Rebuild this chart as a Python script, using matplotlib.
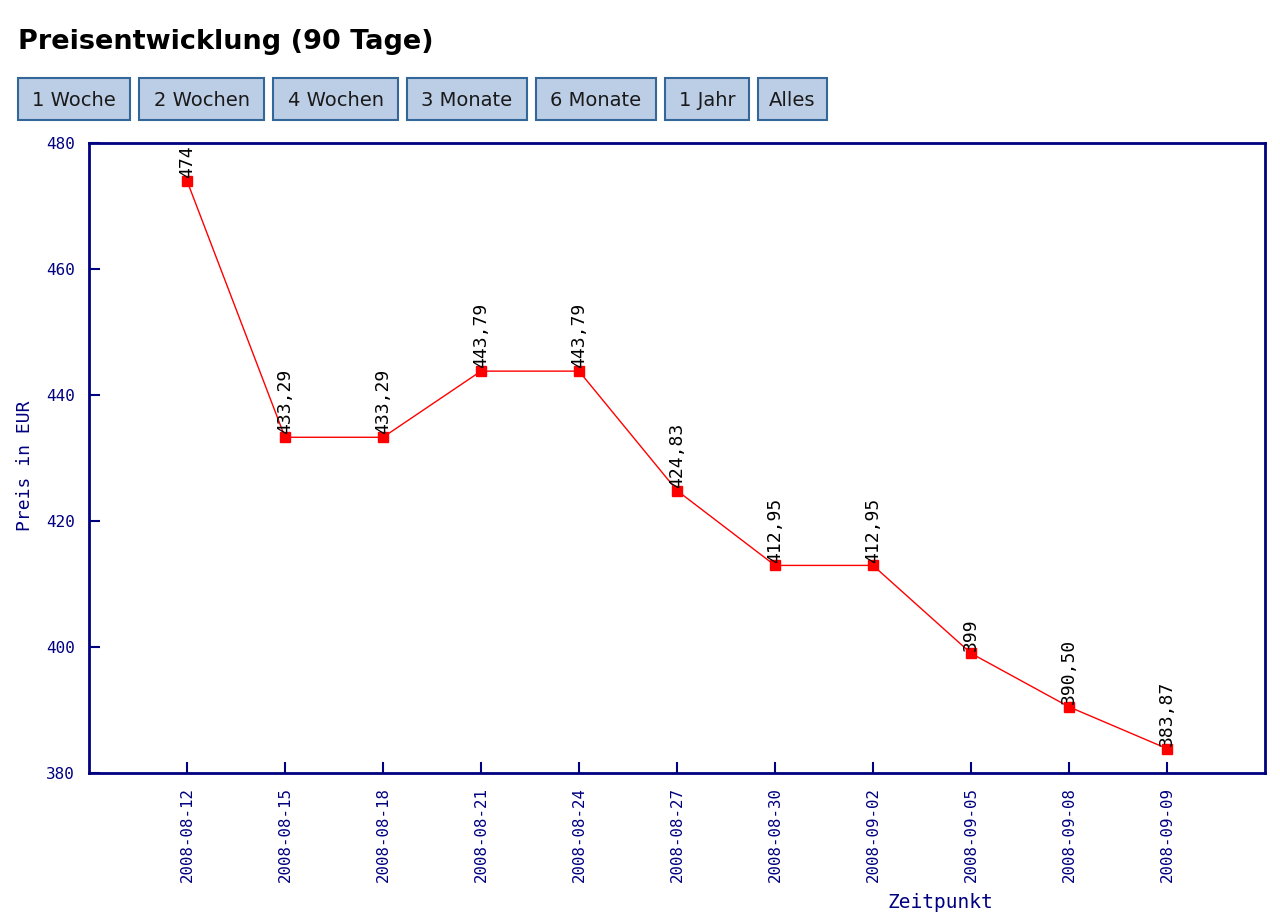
import matplotlib.pyplot as plt
from matplotlib.patches import Rectangle

dates = ["2008-08-12", "2008-08-15", "2008-08-18", "2008-08-21", "2008-08-24",
         "2008-08-27", "2008-08-30", "2008-09-02", "2008-09-05", "2008-09-08",
         "2008-09-09"]
prices = [474, 433.29, 433.29, 443.79, 443.79, 424.83, 412.95, 412.95, 399, 390.50, 383.87]
price_labels = ["474", "433,29", "433,29", "443,79", "443,79", "424,83",
                "412,95", "412,95", "399", "390,50", "383,87"]
buttons = ["1 Woche", "2 Wochen", "4 Wochen", "3 Monate", "6 Monate", "1 Jahr", "Alles"]
y_ticks = [380, 400, 420, 440, 460, 480]

navy = "#000080"
W, H = 1280, 915

fig = plt.figure(figsize=(12.8, 9.15), dpi=100)

# title and range buttons (pixel coordinates converted to figure fraction)
fig.text(18 / W, 1 - 42 / H, "Preisentwicklung (90 Tage)", fontsize=19.5,
         fontweight="bold", family="DejaVu Sans", va="center", ha="left")

btn_x = [(18, 130), (139, 264), (273, 398), (407, 527), (536, 656), (665, 749), (758, 827)]
for label, (x0, x1) in zip(buttons, btn_x):
    fig.patches.append(Rectangle((x0 / W, 1 - 120 / H), (x1 - x0) / W, 42 / H,
                                 transform=fig.transFigure, facecolor="#bccde6",
                                 edgecolor="#336699", linewidth=1.5))
    fig.text((x0 + x1) / 2 / W, 1 - 100 / H, label, fontsize=14,
             family="DejaVu Sans", color="#1a1a1a", ha="center", va="center")

ax = fig.add_axes([89 / W, 1 - 773 / H, (1265 - 89) / W, (773 - 143) / H])
x = list(range(len(dates)))
ax.plot(x, prices, color="red", linewidth=1, marker="s", markersize=7,
        markerfacecolor="red", markeredgecolor="red")

for xi, yi, lab in zip(x, prices, price_labels):
    ax.annotate(lab, (xi, yi), xytext=(0, 2), textcoords="offset points",
                rotation=90, ha="center", va="bottom", fontsize=13,
                family="DejaVu Sans Mono", color="black")

ax.set_xlim(-1, 11)
ax.set_ylim(380, 480)
ax.set_xticks(x)
ax.set_xticklabels(dates, rotation=90, family="DejaVu Sans Mono", fontsize=11.3, color=navy)
ax.set_yticks(y_ticks)
ax.set_yticklabels([str(v) for v in y_ticks], family="DejaVu Sans Mono", fontsize=11.5,
                   color=navy)
ax.tick_params(direction="in", length=8, width=1.5, color=navy, pad=10)

for sp in ax.spines.values():
    sp.set_color(navy)
    sp.set_linewidth(2)

ax.set_ylabel("Preis in EUR", family="DejaVu Sans Mono", fontsize=13, color=navy)
ax.yaxis.set_label_coords(-55 / (1265 - 89), 0.487)
fig.text(940 / W, 1 - 902 / H, "Zeitpunkt", family="DejaVu Sans Mono", fontsize=14,
         color=navy, ha="center", va="center")

fig.savefig("out.png", dpi=100)
